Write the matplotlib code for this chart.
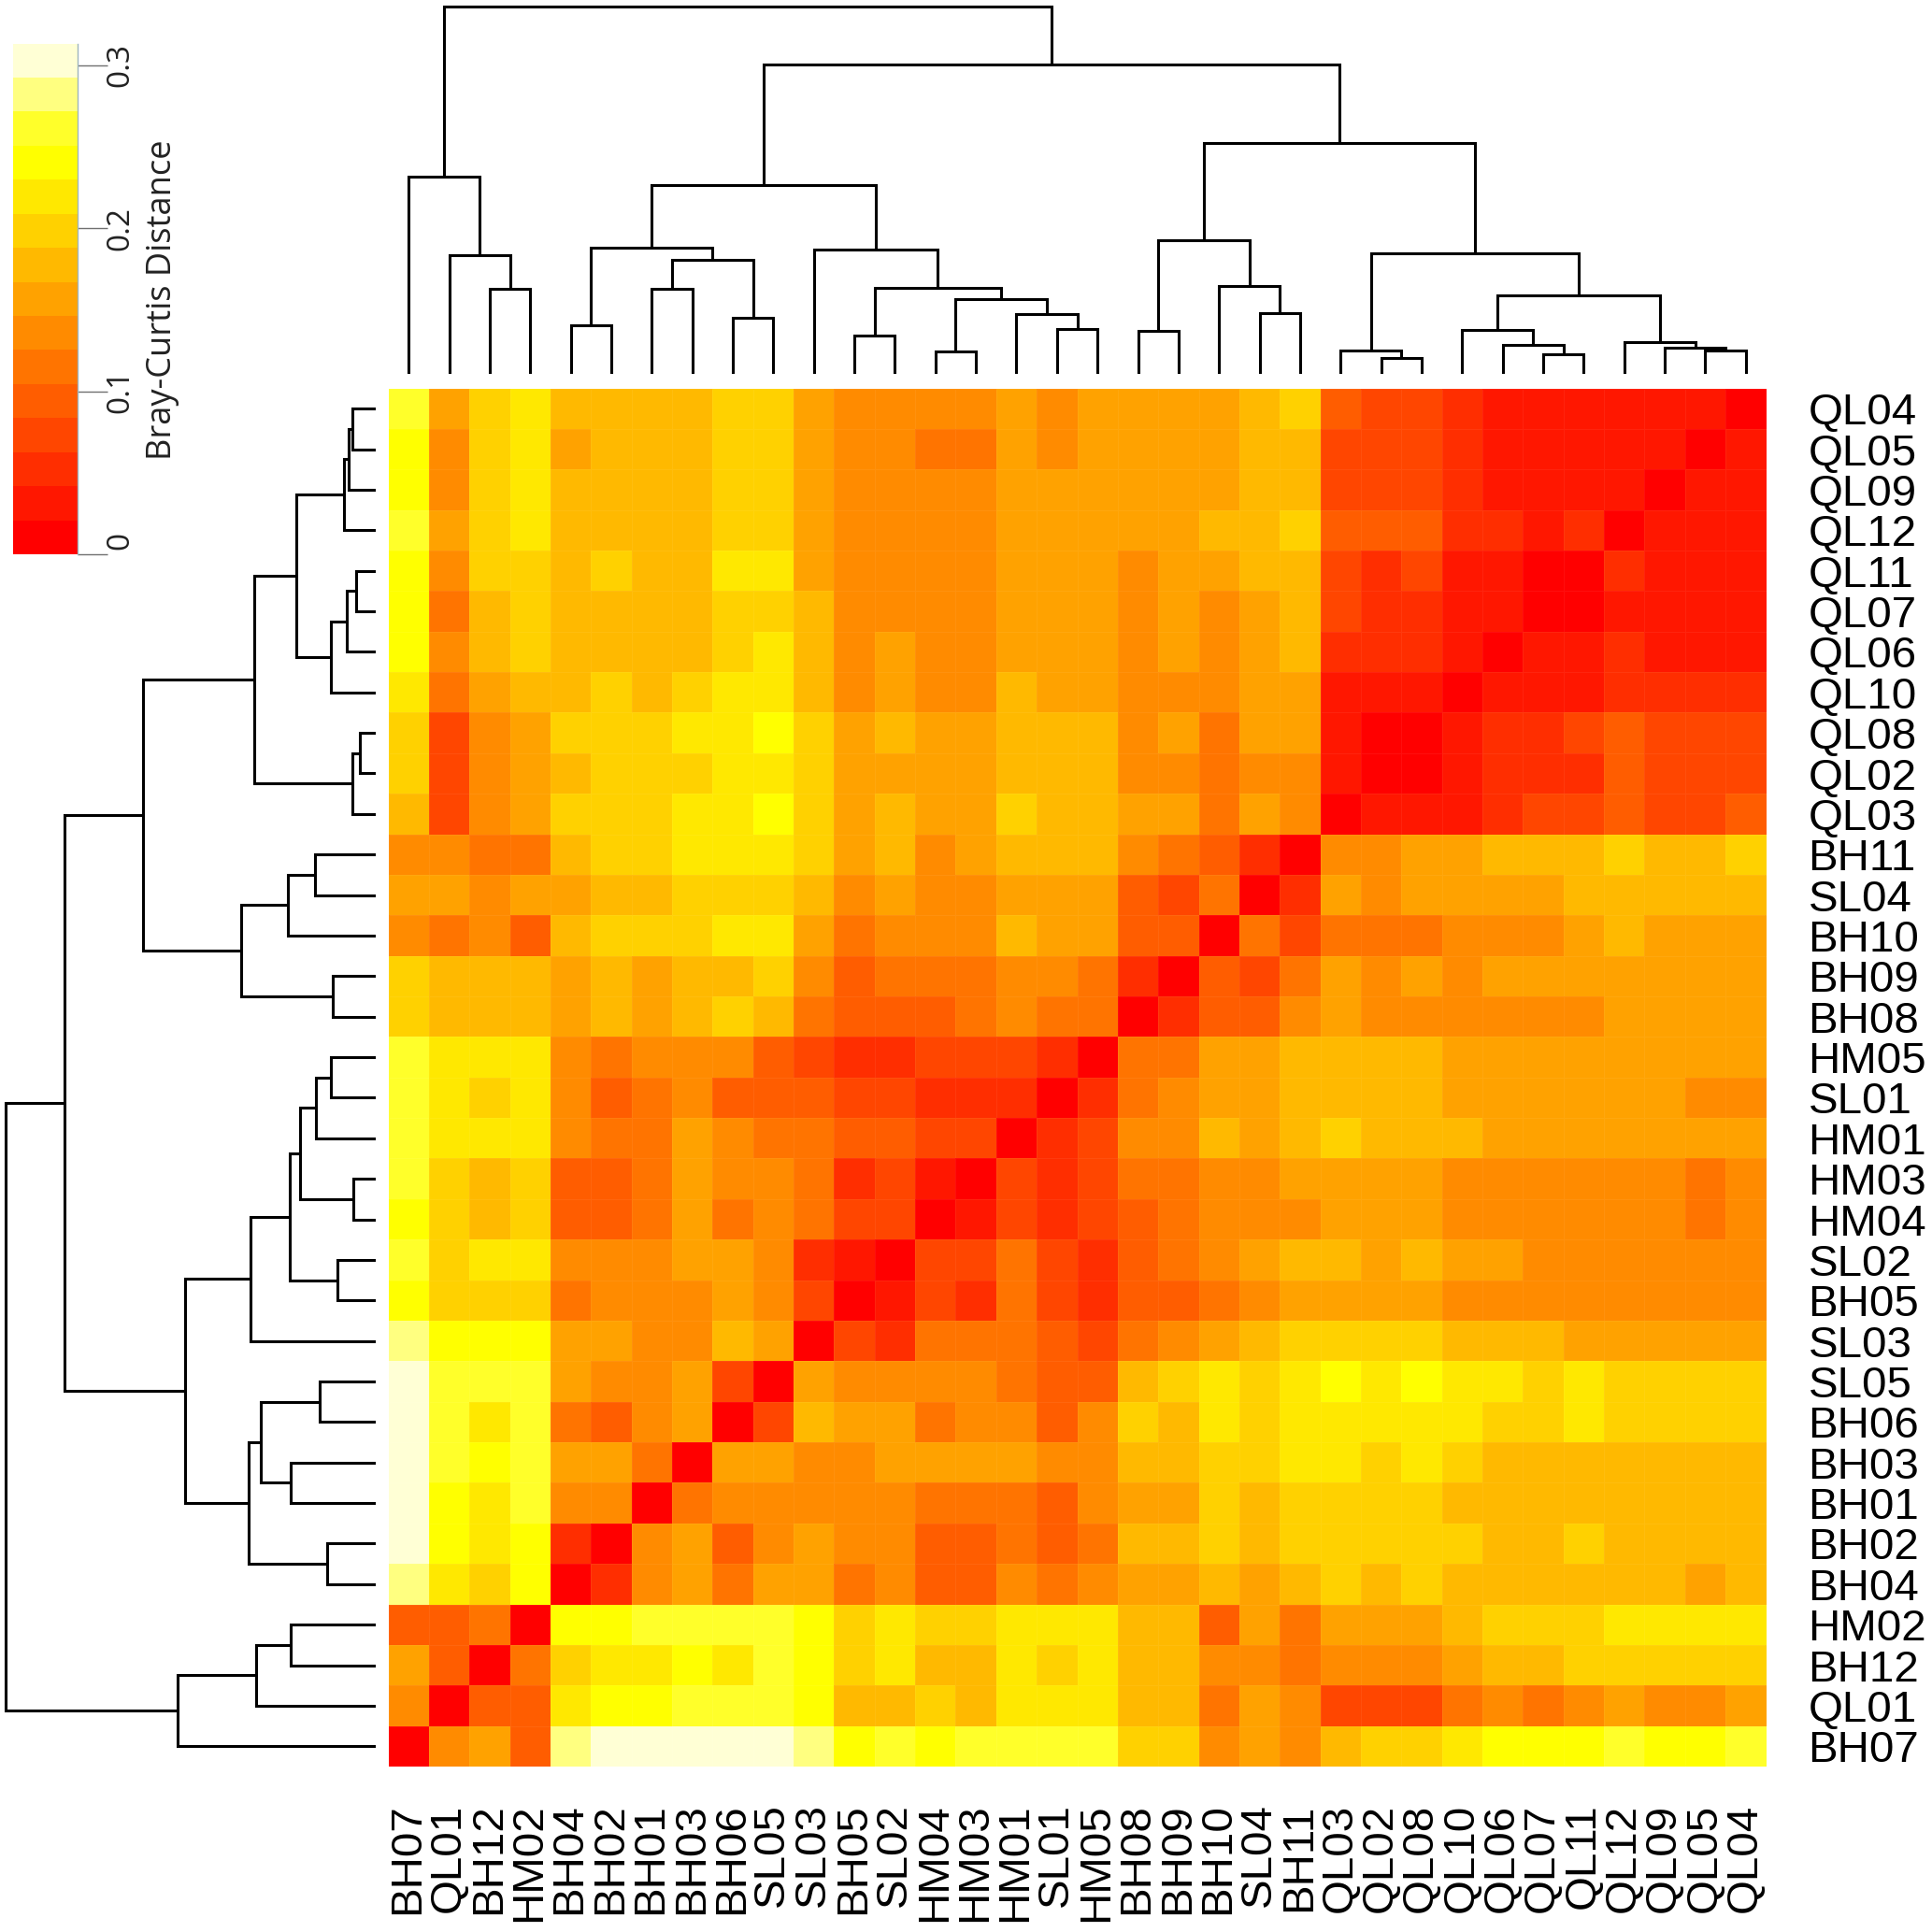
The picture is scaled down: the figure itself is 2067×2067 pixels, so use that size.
import matplotlib
matplotlib.use("Agg")
import matplotlib.pyplot as plt
import numpy as np
from matplotlib.colors import ListedColormap, BoundaryNorm

PX = 2067
DPI = 200

# heat.colors(15) palette; each step covers LEVEL_STEP of Bray-Curtis distance
PALETTE = ['#FF0000', '#FF1700', '#FF2E00', '#FF4600', '#FF5D00', '#FF7400', '#FF8B00',
           '#FFA200', '#FFB900', '#FFD100', '#FFE800', '#FFFF00', '#FFFF2A', '#FFFF80', '#FFFFD5']
LEVEL_STEP = 0.02088
CBAR_TICKS = [0, 0.1, 0.2, 0.3]
CBAR_TICKLABELS = ['0', '0.1', '0.2', '0.3']
CBAR_TITLE = 'Bray-Curtis Distance'

COL_LABELS = ['BH07', 'QL01', 'BH12', 'HM02', 'BH04', 'BH02', 'BH01', 'BH03', 'BH06', 'SL05', 'SL03',
              'BH05', 'SL02', 'HM04', 'HM03', 'HM01', 'SL01', 'HM05', 'BH08', 'BH09', 'BH10', 'SL04',
              'BH11', 'QL03', 'QL02', 'QL08', 'QL10', 'QL06', 'QL07', 'QL11', 'QL12', 'QL09', 'QL05', 'QL04']
ROW_LABELS = COL_LABELS[::-1]

# colour step of every cell, row by row from the top, columns as COL_LABELS
QL04 = [12,7,9,10,8,8,8,8,9,9,7,6,6,6,6,7,6, 7,7,7,7,8,9,4,3,3,2,1,1,1,1,1,1,0]
QL05 = [11,6,9,10,7,8,8,8,9,9,7,6,6,5,5,7,6, 7,7,7,7,8,8,3,3,3,2,1,1,1,1,1,0,1]
QL09 = [11,6,9,10,8,8,8,8,9,9,7,6,6,6,6,7,7, 7,7,7,7,8,8,3,3,3,2,1,1,1,1,0,1,1]
QL12 = [12,7,9,10,8,8,8,8,9,9,7,6,6,6,6,7,7, 7,7,7,8,8,9,4,4,4,2,2,1,2,0,1,1,1]
QL11 = [11,6,9,9,8,9,8,8,10,10,7,6,6,6,6,7,7, 7,6,7,7,8,8,3,2,3,1,1,0,0,2,1,1,1]
QL07 = [11,5,8,9,8,8,8,8,9,9,8,6,6,6,6,7,7, 7,6,7,6,7,8,3,2,2,1,1,0,0,1,1,1,1]
QL06 = [11,6,8,9,8,8,8,8,9,10,8,6,7,6,6,7,7, 7,6,7,6,7,8,2,2,2,1,0,1,1,2,1,1,1]
QL10 = [10,5,7,8,8,9,8,9,10,10,8,6,7,6,6,8,7, 7,6,6,6,7,7,1,1,1,0,1,1,1,2,2,2,2]
QL08 = [9,3,6,7,9,9,9,10,10,11,9,7,8,7,7,8,8, 8,6,7,5,7,7,1,0,0,1,2,2,3,4,3,3,3]
QL02 = [9,3,6,7,8,9,9,9,10,10,9,7,7,7,7,8,8, 8,6,6,5,6,6,1,0,0,1,2,2,2,4,3,3,3]
QL03 = [8,3,6,7,9,9,9,10,10,11,9,7,8,7,7,9,8, 8,7,7,5,7,6,0,1,1,1,2,3,3,4,3,3,4]
BH11 = [6,6,5,5,8,9,9,10,10,10,9,7,8,6,7,8,8, 8,6,5,4,2,0,6,6,7,7,8,8,8,9,8,8,9]
SL04 = [7,7,6,7,7,8,8,9,9,9,8,6,7,6,6,7,7, 7,4,3,5,0,2,7,6,7,7,7,7,8,8,8,8,8]
BH10 = [6,5,6,4,8,9,9,9,10,10,7,5,6,6,6,8,7, 7,4,4,0,5,3,5,5,5,6,6,6,7,8,7,7,7]
BH09 = [9,8,8,8,7,8,7,8,8,9,6,4,5,5,5,6,6, 5,2,0,4,3,5,7,6,7,6,7,7,7,7,7,7,7]
BH08 = [9,8,8,8,7,8,7,8,9,8,5,4,4,4,5,6,5, 5,0,2,4,4,6,7,6,6,6,6,6,6,7,7,7,7]
HM05 = [12,10,10,10,6,5,6,6,6,4,3,2,2,3,3,3,2, 0,5,5,7,7,8,8,8,8,7,7,7,7,7,7,7,7]
SL01 = [12,10,9,10,6,4,5,6,4,4,4,3,3,2,2,2,0, 2,5,6,7,7,8,8,8,8,7,7,7,7,7,7,6,6]
HM01 = [12,10,10,10,6,5,5,7,6,5,5,4,4,3,3,0,2, 3,6,6,8,7,8,9,8,8,8,7,7,7,7,7,7,7]
HM03 = [12,9,8,9,4,4,5,7,6,6,5,2,3,1,0,3,2, 3,5,5,6,6,7,7,7,7,6,6,6,6,6,6,5,6]
HM04 = [11,9,8,9,4,4,5,7,5,6,5,3,3,0,1,3,2, 3,4,5,6,6,6,7,7,7,6,6,6,6,6,6,5,6]
SL02 = [12,9,10,10,6,6,6,7,7,6,2,1,0,3,3,5,3, 2,4,5,6,7,8,8,7,8,7,7,6,6,6,6,6,6]
BH05 = [11,9,9,9,5,6,6,6,7,6,3,0,1,3,2,5,3, 2,4,4,5,6,7,7,7,7,6,6,6,6,6,6,6,6]
SL03 = [13,11,11,11,7,7,6,6,8,7,0,3,2,5,5,5,4, 3,5,6,7,8,9,9,9,9,8,8,8,7,7,7,7,7]
SL05 = [14,12,12,12,7,6,6,7,3,0,7,6,6,6,6,5,4, 4,8,9,10,9,10,11,10,11,10,10,9,10,9,9,9,9]
BH06 = [14,12,10,12,5,4,6,7,0,3,8,7,7,5,6,6,4, 6,9,8,10,9,10,10,10,10,10,9,9,10,9,9,9,9]
BH03 = [14,12,11,12,7,7,5,0,7,7,6,6,7,7,7,7,6, 6,8,8,9,9,10,10,9,10,9,8,8,8,8,8,8,8]
BH01 = [14,11,10,12,6,6,0,5,6,6,6,6,6,5,5,5,4, 6,7,7,9,8,9,9,9,9,8,8,8,8,8,8,8,8]
BH02 = [14,11,10,11,2,0,6,7,4,6,7,6,6,4,4,5,4, 5,8,8,9,8,9,9,9,9,9,8,8,9,8,8,8,8]
BH04 = [13,10,9,11,0,2,6,7,5,7,7,5,6,4,4,6,5, 6,7,7,8,7,8,9,8,9,8,8,8,8,8,8,7,8]
HM02 = [4,4,5,0,11,11,12,12,12,12,11,9,10,9,9,10,10, 10,8,8,4,7,5,7,7,7,8,9,9,9,10,10,10,10]
BH12 = [7,4,0,5,9,10,10,11,10,12,11,9,10,8,8,10,9, 10,8,8,6,6,5,6,6,6,7,8,8,9,9,9,9,9]
QL01 = [6,0,4,4,10,11,11,12,12,12,11,8,8,9,8,10,10, 10,8,8,5,7,6,3,3,3,5,6,5,6,7,6,6,7]
BH07 = [0,6,7,4,13,14,14,14,14,14,13,11,12,11,12,12,12, 12,9,9,6,7,6,8,9,9,10,11,11,11,12,11,11,12]

CELL_STEPS = [QL04, QL05, QL09, QL12, QL11, QL07, QL06, QL10, QL08, QL02, QL03, BH11, SL04, BH10, BH09,
              BH08, HM05, SL01, HM01, HM03, HM04, SL02, BH05, SL03, SL05, BH06, BH03, BH01, BH02, BH04,
              HM02, BH12, QL01, BH07]

# clustering tree: (merge height, left branch, right branch)
TREE_A = (210.7, 'BH07', (127, 'QL01', (90.7, 'BH12', 'HM02')))
TREE_C1 = (135, (51.7, 'BH04', 'BH02'), (121.7, (90.7, 'BH01', 'BH03'), (60, 'BH06', 'SL05')))
TREE_C2 = (132.7, 'SL03', (91.7, (40.7, 'BH05', 'SL02'),
                           (80, (24, 'HM04', 'HM03'), (64, 'HM01', (48, 'SL01', 'HM05')))))
TREE_E = (143, (46, 'BH08', 'BH09'), (93.7, 'BH10', (65, 'SL04', 'BH11')))
TREE_F1 = (25, 'QL03', (17, 'QL02', 'QL08'))
TREE_F2 = (84, (47.3, 'QL10', (30.7, 'QL06', (20.7, 'QL07', 'QL11'))),
           (34, 'QL12', (28.3, 'QL09', (25.3, 'QL05', 'QL04'))))
TREE = (392.7, TREE_A, (331, (202, TREE_C1, TREE_C2), (247, TREE_E, (128.7, TREE_F1, TREE_F2))))

plt.rcParams['font.family'] = ['Liberation Sans', 'DejaVu Sans']


def axes_px(fig, x0, y0, x1, y1):
    return fig.add_axes([x0 / PX, 1 - y1 / PX, (x1 - x0) / PX, (y1 - y0) / PX])


def segments(node, pos):
    """Return (position, height, segments) of a tree node."""
    if isinstance(node, str):
        return pos[node], 0.0, []
    h, left, right = node
    pl, hl, sl = segments(left, pos)
    pr, hr, sr = segments(right, pos)
    seg = sl + sr + [([pl, pl, pr, pr], [hl, h, h, hr])]
    return (pl + pr) / 2, h, seg


fig = plt.figure(figsize=(PX / DPI, PX / DPI), dpi=DPI, facecolor='white')
HX0, HX1, HY0, HY1 = 415.5, 1889.5, 415.5, 1890.0
FONT = 17.1
cmap = ListedColormap(PALETTE)
edges = np.arange(len(PALETTE) + 1) * LEVEL_STEP
norm = BoundaryNorm(edges, cmap.N)
distance = (np.array(CELL_STEPS) + 0.5) * LEVEL_STEP

# heat map
ax = axes_px(fig, HX0, HY0, HX1, HY1)
ax.pcolormesh(np.arange(35), np.arange(35), distance, cmap=cmap, norm=norm,
              edgecolors=(1, 1, 1, 0.06), linewidth=0.3)
ax.set_xlim(0, 34)
ax.set_ylim(34, 0)
ax.axis('off')
for i, name in enumerate(ROW_LABELS):
    ax.annotate(name, xy=(1, 1 - (i + 0.5) / 34), xycoords='axes fraction',
                xytext=(45 * 72 / DPI, 0), textcoords='offset points',
                ha='left', va='center_baseline', fontsize=FONT, color='black')
for i, name in enumerate(COL_LABELS):
    ax.annotate(name, xy=((i + 0.5) / 34, 0), xycoords='axes fraction',
                xytext=(-1 * 72 / DPI, -39.5 * 72 / DPI), textcoords='offset points', rotation=90,
                ha='center', va='top', fontsize=FONT, color='black')

# top dendrogram
top = axes_px(fig, HX0, 0, HX1, 400)
pos_col = {n: i + 0.5 for i, n in enumerate(COL_LABELS)}
for xs, ys in segments(TREE, pos_col)[2]:
    top.plot(xs, ys, color='black', lw=1.1, solid_joinstyle='miter', solid_capstyle='butt')
top.set_xlim(0, 34)
top.set_ylim(0, 400)
top.axis('off')

# left dendrogram
lft = axes_px(fig, -1, HY0, 402, HY1)
pos_row = {n: i + 0.5 for i, n in enumerate(ROW_LABELS)}
for ys, xs in segments(TREE, pos_row)[2]:
    lft.plot(xs, ys, color='black', lw=1.1, solid_joinstyle='miter', solid_capstyle='butt')
lft.set_xlim(400, 0)
lft.set_ylim(34, 0)
lft.axis('off')

# colour key
cb = axes_px(fig, 13.5, 46.6, 83, 593)
cb.pcolormesh([0, 1], edges, (edges[:-1] + LEVEL_STEP / 2)[:, None], cmap=cmap, norm=norm)
cb.set_ylim(edges[0], edges[-1])
cb.set_xlim(0, 1)
for s in cb.spines.values():
    s.set_visible(False)
cb.spines['right'].set_visible(True)
cb.spines['right'].set_color('#9fb6bf')
cb.spines['right'].set_linewidth(0.5)
cb.set_xticks([])
cb.yaxis.tick_right()
cb.set_yticks(CBAR_TICKS)
cb.set_yticklabels([])
cb.tick_params(axis='y', length=32 * 72 / DPI, width=0.5, color='#707070')
for v, t in zip(CBAR_TICKS, CBAR_TICKLABELS):
    cb.annotate(t, xy=(1, v), xycoords=('axes fraction', 'data'),
                xytext=(46 * 72 / DPI, (5 if v == 0 else 0) * 72 / DPI),
                textcoords='offset points', rotation=90, ha='center',
                va='bottom' if v == 0 else 'center', fontsize=12, family='Open Sans', color='#222222')
fig.text(174 / PX, 1 - 321 / PX, CBAR_TITLE, rotation=90, ha='center', va='center',
         fontsize=13.05, family='Open Sans', color='#222222')

fig.savefig('out.png', dpi=DPI, facecolor='white')
